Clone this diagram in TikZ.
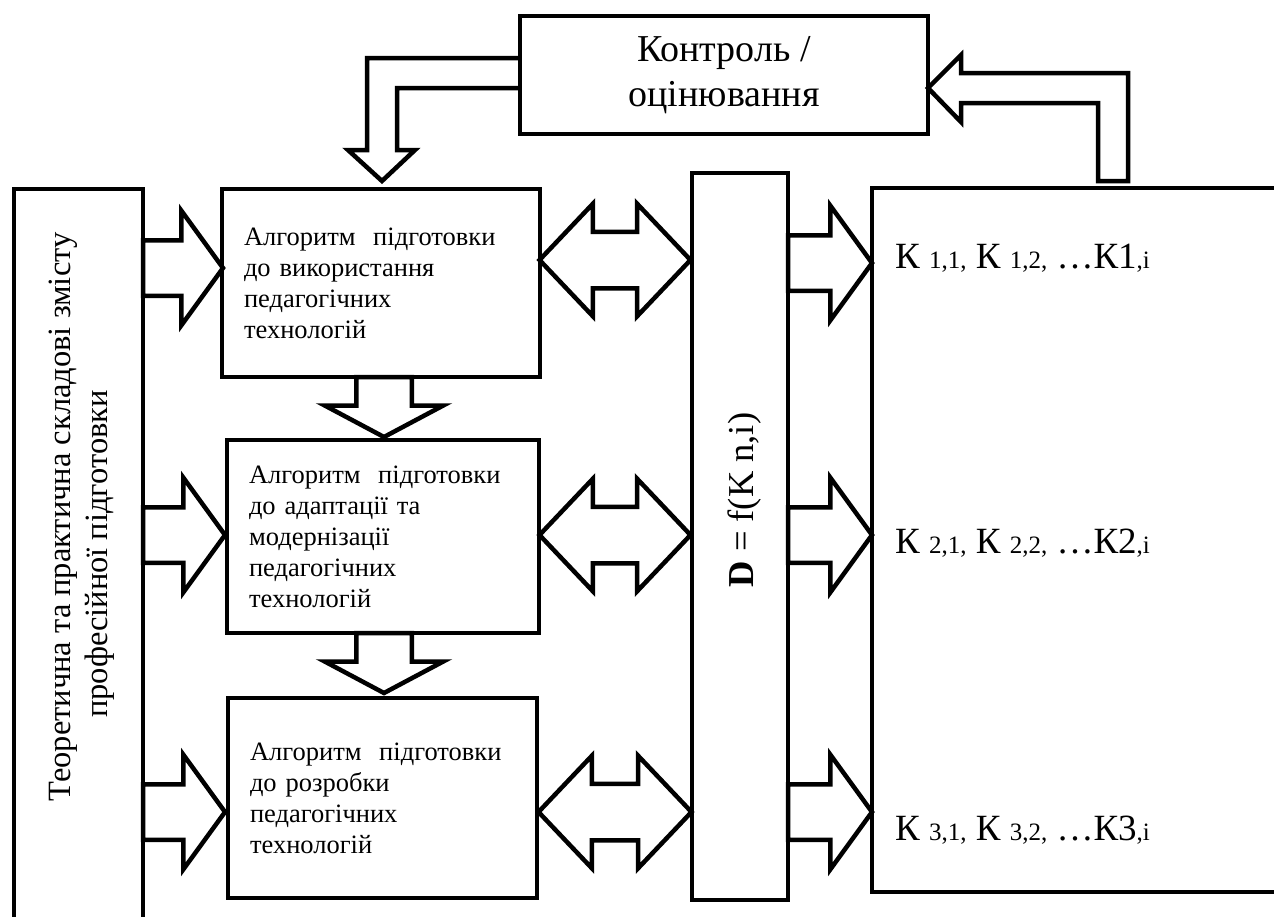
\documentclass[tikz,border=0pt]{standalone}
\usepackage{fontspec}
\setmainfont{Liberation Serif}
\usetikzlibrary{shapes.arrows,calc}
\tikzstyle{box}=[draw,line width=4.5pt,inner sep=0pt,outer sep=0pt,anchor=north west]
\tikzstyle{algbox}=[box,align=left,inner xsep=22pt,font=\fontsize{26.5}{31}\selectfont]
\tikzstyle{hollow}=[draw,line width=4.5pt,inner sep=0pt,outer sep=0pt]
\tikzstyle{fatarrow}=[hollow,single arrow,inner ysep=25.5pt,single arrow head extend=29.5pt,single arrow tip angle=108,anchor=tail]
\tikzstyle{downarrow}=[hollow,single arrow,rotate=-90,inner ysep=25.5pt,single arrow head extend=31.5pt,single arrow tip angle=124,minimum height=60pt,anchor=tail]
\tikzstyle{twoway}=[hollow,double arrow,inner ysep=26pt,double arrow head extend=28pt,double arrow tip angle=93,minimum height=151pt]
\tikzstyle{elbow}=[line width=4.5pt,line join=miter]
\tikzstyle{klabel}=[anchor=base west,inner sep=0pt,font=\fontsize{37}{37}\selectfont]
\newcommand{\ksub}[1]{{\fontsize{25}{25}\selectfont #1}}

\begin{document}
\begin{tikzpicture}[x=1pt,y=-1pt]
\useasboundingbox (0,0) rectangle (1274,916);
% boxes
\node (ctrl) [box,minimum width=408pt,minimum height=118pt,align=center,font=\fontsize{38}{45}\selectfont] at (520,16) {Контроль /\\оцінювання};
\node (theory) [box,minimum width=129pt,minimum height=760pt] at (14,189) {};
\node (theorytext) [rotate=90,align=center,font=\fontsize{32.5}{37}\selectfont] at (82,517) {Теоретична та практична складові змісту\\професійної підготовки\hspace*{74pt}};
\node (alg1) [algbox,text width=274pt,minimum height=188pt] at (222,189) {Алгоритм~ підготовки\\до використання\\педагогічних\\технологій};
\node (alg2) [algbox,text width=268pt,minimum height=193pt] at (227,440) {Алгоритм~ підготовки\\до адаптації та\\модернізації\\педагогічних\\технологій};
\node (alg3) [algbox,text width=265pt,minimum height=200pt] at (228,698) {Алгоритм~ підготовки\\до розробки\\педагогічних\\технологій};
\node (dbox) [box,minimum width=96pt,minimum height=727pt] at (692,173) {};
\node (dtext) [rotate=90,font=\fontsize{36.5}{36.5}\selectfont] at (745,500) {\textbf{D} = f(K n,i)};
\node (kbox) [box,minimum width=430pt,minimum height=704pt] at (872,188) {};
\node (k1) [klabel] at (895,268) {К \ksub{1,1,} К \ksub{1,2,} …К1\ksub{,i}};
\node (k2) [klabel] at (895,553) {К \ksub{2,1,} К \ksub{2,2,} …К2\ksub{,i}};
\node (k3) [klabel] at (895,840) {К \ksub{3,1,} К \ksub{3,2,} …К3\ksub{,i}};

% block arrows
\node (in1) [fatarrow,minimum height=80pt] at (theory.east |- 0,268) {};
\node (in2) [fatarrow,minimum height=82pt] at (theory.east |- 0,535) {};
\node (in3) [fatarrow,minimum height=82pt] at (theory.east |- 0,812) {};
\node (both1) [twoway] at (615,260) {};
\node (both2) [twoway] at (615,535) {};
\node (both3) [twoway,minimum height=153pt] at (615,812) {};
\node (out1) [fatarrow,minimum height=84pt] at (dbox.east |- 0,263) {};
\node (out2) [fatarrow,minimum height=84pt] at (dbox.east |- 0,535) {};
\node (out3) [fatarrow,minimum height=84pt] at (dbox.east |- 0,812) {};
\node (down1) [downarrow] at ($(alg1.south)+(3,0)$) {};
\node (down2) [downarrow] at ($(alg2.south)+(1,0)$) {};

% feedback
\draw[elbow] (ctrl.west |- 0,58) -- (367,58) -- (367,150) -- (348,150) -- (382,181) -- (415,150) -- (397,150) -- (397,88) -- (ctrl.west |- 0,88);
\draw[elbow] (1098,181) -- (1098,103) -- (961,103) -- (961,122) -- (ctrl.east |- 0,88) -- (961,55) -- (961,73) -- (1128,73) -- (1128,181) -- cycle;
\end{tikzpicture}
\end{document}
